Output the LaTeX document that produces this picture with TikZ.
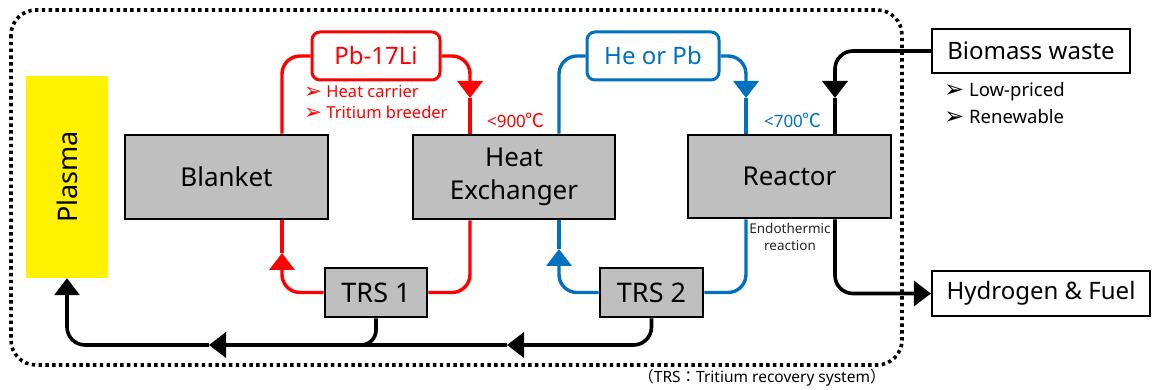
\documentclass[tikz,border=0pt]{standalone}
\usepackage{fontspec}
\setmainfont{Noto Sans}
\newfontfamily\cjk{Noto Sans CJK JP}
\newfontfamily\dingfont{DejaVu Sans}
\usepackage{xcolor}
\usetikzlibrary{arrows.meta,positioning,calc}
\definecolor{tblue}{HTML}{0070C0}
\definecolor{boxgray}{HTML}{BFBFBF}
\newcommand{\bul}{\raisebox{-0.1ex}{\dingfont\scalebox{1.3}{➢}}\ }

\begin{document}
\begin{tikzpicture}[x=1pt,y=-1pt,>={Triangle[length=17pt,width=25pt]},
  unit/.style={draw,line width=2.6pt,fill=boxgray,inner sep=0pt,align=center,font=\fontsize{26}{34}\selectfont},
  medium/.style={draw,line width=3pt,fill=white,rounded corners=8pt,inner sep=0pt,font=\fontsize{24}{28}\selectfont},
  outbox/.style={draw,line width=2.2pt,fill=white,inner sep=0pt,font=\fontsize{24}{28}\selectfont},
  flow/.style={line width=3.6pt,rounded corners=18pt},
  redflow/.style={flow,draw=red,line width=3.4pt},
  blueflow/.style={flow,draw=tblue,line width=3.4pt},
  note/.style={inner sep=0pt,anchor=west,font=\fontsize{16.5}{20}\selectfont},
  temp/.style={inner sep=0pt,font=\fontsize{17}{20}\selectfont}]
\useasboundingbox (0,0) rectangle (1152,390);
\draw[line width=3.6pt,dash pattern=on 3.4pt off 3.4pt,rounded corners=25pt] (11,10) rectangle (902,365);

\node[draw=none,fill=yellow,minimum width=82pt,minimum height=202pt,inner sep=0pt] (plasma) at (67,177) {};
\node[rotate=90,font=\fontsize{27}{30}\selectfont] (plasmatxt) at (plasma.center) {Plasma};
\node[unit,minimum width=203pt,minimum height=84pt] (blanket) at (226.5,177) {Blanket};
\node[unit,minimum width=202pt,minimum height=84pt] (hx) at (514,177) {Heat\\[-1pt]Exchanger};
\node[unit,minimum width=203pt,minimum height=83pt] (reactor) at (789.5,176.5) {Reactor};
\node[unit,font=\fontsize{27}{32}\selectfont,minimum width=102pt,minimum height=49pt] (trs1) at (376,292.5) {TRS 1};
\node[unit,font=\fontsize{27}{32}\selectfont,minimum width=103pt,minimum height=49pt] (trs2) at (651.5,292.5) {TRS 2};
\node[medium,draw=red,text=red,minimum width=128pt,minimum height=48pt] (pbli) at (376,56) {Pb-17Li};
\node[medium,draw=tblue,text=tblue,minimum width=132pt,minimum height=48pt] (heorpb) at (653,56) {He or Pb};
\node[outbox,minimum width=198pt,minimum height=44pt] (biomass) at (1031,51) {Biomass waste};
\node[outbox,minimum width=218pt,minimum height=45pt] (hydrogen) at (1041,293.5) {Hydrogen \& Fuel};

\coordinate (rup) at (282,253);
\coordinate (rdn) at (470,98);
\coordinate (bup) at (559,249);
\coordinate (bdn) at (746,98);
\coordinate (kdn) at (835,98);
\coordinate (ka) at (209,345);
\coordinate (kb) at (507,345);
\coordinate (kj) at (340,345);

\draw[redflow] (blanket.north -| rup) |- (pbli.west);
\draw[redflow,->] (pbli.east) -| (rdn);
\draw[redflow] (rdn) -- (rdn |- hx.north);
\draw[redflow] (hx.south -| rdn) |- (trs1.east);
\draw[redflow,->] (trs1.west) -| (rup);
\draw[redflow] (rup) -- (rup |- blanket.south);

\draw[blueflow] (hx.north -| bup) |- (heorpb.west);
\draw[blueflow,->] (heorpb.east) -| (bdn);
\draw[blueflow] (bdn) -- (bdn |- reactor.north);
\draw[blueflow] (reactor.south -| bdn) |- (trs2.east);
\draw[blueflow,->] (trs2.west) -| (bup);
\draw[blueflow] (bup) -- (bup |- hx.south);

\draw[flow,->] (biomass.west) -| (kdn);
\draw[flow] (kdn) -- (kdn |- reactor.north);
\draw[flow,->] (reactor.south -| kdn) |- (hydrogen.west);
\draw[flow,->] (trs2.south) |- (kb);
\draw[flow,->] (kb) -- (ka);
\draw[flow,->] (ka) -| (plasma.south);
\draw[flow,rounded corners=15pt] (trs1.south) |- (kj);

\node[note,text=red] (carrier) at (304,92) {\bul Heat carrier};
\node[note,text=red] (breeder) at (304,113) {\bul Tritium breeder};
\node[temp,text=red] (t900) at (516,120) {<900{\cjk\fontsize{19}{20}\selectfont ℃}};
\node[temp,text=tblue] (t700) at (793,120) {<700{\cjk\fontsize{19}{20}\selectfont ℃}};
\node[inner sep=0pt,align=center,text=black!85,font=\fontsize{13.5}{17}\selectfont] (endo) at (790,237) {Endothermic\\reaction};
\node[note,font=\fontsize{18.5}{22}\selectfont] (lowp) at (944,92) {\bul Low-priced};
\node[note,font=\fontsize{18.5}{22}\selectfont] (renew) at (944,117) {\bul Renewable};
\node[inner sep=0pt,font=\fontsize{15.5}{18}\selectfont] (trsnote) at (762,378) {{\cjk （}TRS{\cjk ：}Tritium recovery system{\cjk ）}};
\end{tikzpicture}
\end{document}
